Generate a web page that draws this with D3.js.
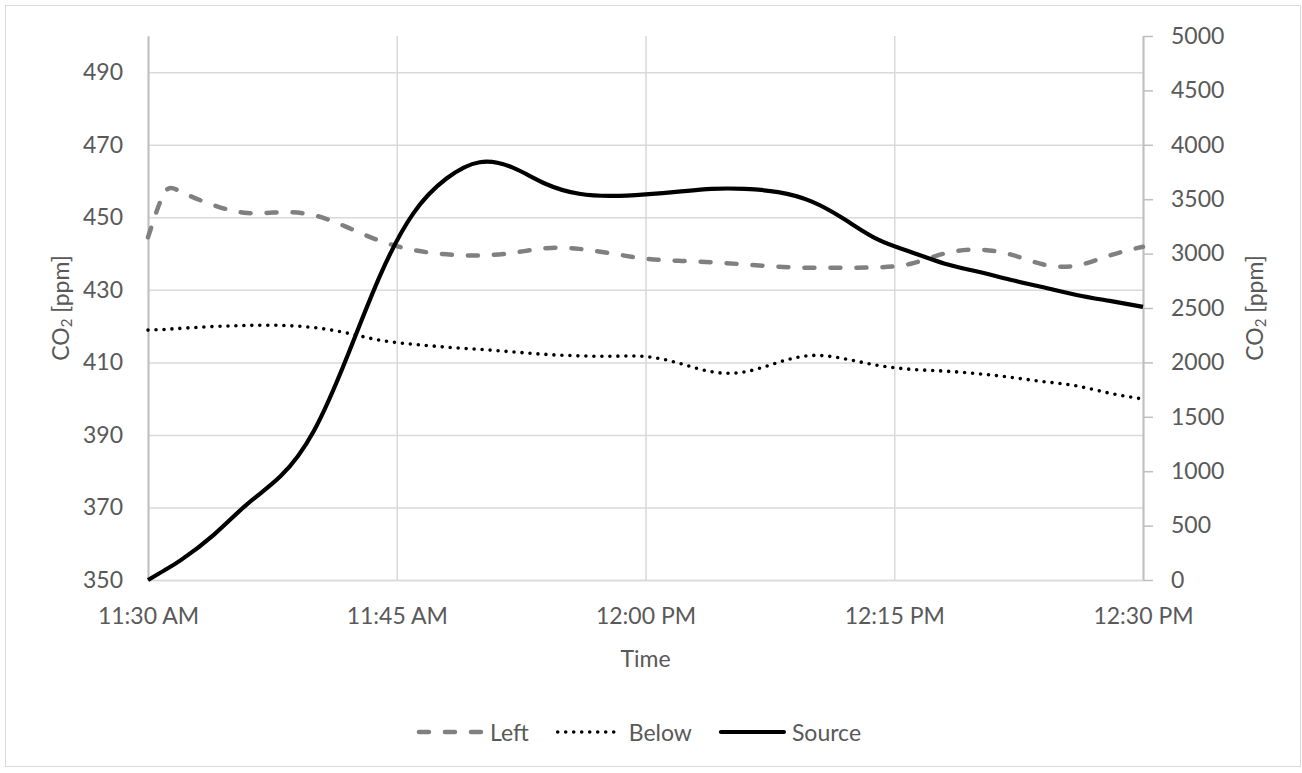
<!DOCTYPE html>
<html>
<head>
<meta charset="utf-8">
<script src="https://cdn.jsdelivr.net/npm/d3@7"></script>
<style>
  html, body { margin: 0; padding: 0; background: #ffffff; }
  svg { display: block; }
  text { font-family: Lato, "Open Sans", sans-serif; fill: #595959; }
</style>
</head>
<body>
<svg id="chart" width="1302" height="773"></svg>
<script>
// Sample times (clock time, same day)
const times = ["11:30","11:31","11:32","11:34","11:36","11:38","11:40","11:42","11:44","11:46","11:48",
  "11:50","11:52","11:54","11:56","11:58","12:00","12:02","12:04","12:06","12:08","12:10",
  "12:12","12:14","12:16","12:18","12:20","12:22","12:24","12:26","12:28","12:30"];

// CO2 beside the source, left axis [ppm]
const leftValues = [444.5,456.8,457.0,453.3,451.2,451.4,450.6,447.3,443.5,441.0,439.8,
  439.5,440.2,441.5,441.3,440.0,438.6,438.0,437.6,437.0,436.4,436.1,
  436.1,436.2,437.2,440.0,441.1,439.8,437.0,436.7,439.5,441.9];

// CO2 below the source, left axis [ppm]
const belowValues = [418.9,419.1,419.4,419.9,420.2,420.2,419.6,418.1,416.1,415.0,414.2,
  413.6,412.9,412.2,411.8,411.7,411.6,409.8,407.4,407.4,410.0,411.9,
  411.0,409.2,408.1,407.6,406.9,405.9,404.7,403.5,401.5,399.9];

// CO2 at the source, right axis [ppm]
const sourceValues = [0,90,185,420,700,955,1370,2050,2800,3370,3690,
  3840,3790,3640,3550,3530,3545,3570,3595,3595,3565,3480,
  3315,3130,3015,2910,2835,2760,2690,2620,2565,2510];

const leftTicks = [350,370,390,410,430,450,470,490];
const rightTicks = [0,500,1000,1500,2000,2500,3000,3500,4000,4500,5000];
const xTickTimes = ["11:30","11:45","12:00","12:15","12:30"];
const seriesNames = ["Left","Below","Source"];

const parse = d3.timeParse("%H:%M");
const svg = d3.select("#chart");

const plot = { left: 148, right: 1143, top: 36, bottom: 580 };

const x = d3.scaleTime()
  .domain([parse("11:30"), parse("12:30")])
  .range([plot.left, plot.right]);
const yL = d3.scaleLinear().domain([350, 500]).range([plot.bottom, plot.top]);
const yR = d3.scaleLinear().domain([0, 5000]).range([plot.bottom, plot.top]);

const gridColor = "#d9d9d9";
const axisColor = "#bfbfbf";
const labelFont = "Lato, sans-serif";

// Chart frame
svg.append("rect")
  .attr("x", 5.5).attr("y", 5.5)
  .attr("width", 1295).attr("height", 761)
  .attr("fill", "#ffffff").attr("stroke", "#d9d9d9").attr("stroke-width", 1);

// Horizontal grid from the left axis ticks
svg.append("g")
  .attr("transform", `translate(${plot.left},0)`)
  .call(d3.axisLeft(yL).tickValues(leftTicks).tickSize(-(plot.right - plot.left)).tickFormat(""))
  .call(g => g.select(".domain").remove())
  .call(g => g.selectAll("line").attr("stroke", gridColor).attr("stroke-width", 1.5));

// Vertical grid at the time ticks
svg.append("g")
  .attr("transform", `translate(0,${plot.bottom})`)
  .call(d3.axisBottom(x).tickValues(xTickTimes.map(parse)).tickSize(-(plot.bottom - plot.top)).tickFormat(""))
  .call(g => g.select(".domain").remove())
  .call(g => g.selectAll("line").attr("stroke", gridColor).attr("stroke-width", 1.5));

// Left axis: line + labels
const axL = svg.append("g")
  .attr("transform", `translate(${plot.left},0)`)
  .call(d3.axisLeft(yL).tickValues(leftTicks).tickSize(0).tickPadding(25));
axL.select(".domain").attr("stroke", axisColor).attr("stroke-width", 2);
axL.selectAll("text").attr("font-size", 23).style("font-family", labelFont).attr("fill", "#595959");

// Right axis: line, outward ticks, labels
const axR = svg.append("g")
  .attr("transform", `translate(${plot.right},0)`)
  .call(d3.axisRight(yR).tickValues(rightTicks).tickSize(10).tickSizeOuter(0).tickPadding(18)
    .tickFormat(d3.format("d")));
axR.select(".domain").attr("stroke", axisColor).attr("stroke-width", 2);
axR.selectAll("line").attr("stroke", axisColor).attr("stroke-width", 1.5);
axR.selectAll("text").attr("font-size", 23).style("font-family", labelFont).attr("fill", "#595959");

// Bottom axis labels
const axB = svg.append("g")
  .attr("transform", `translate(0,${plot.bottom})`)
  .call(d3.axisBottom(x).tickValues(xTickTimes.map(parse)).tickSize(0).tickPadding(28)
    .tickFormat(d3.timeFormat("%-I:%M %p")));
axB.select(".domain").attr("stroke", gridColor).attr("stroke-width", 1.5);
axB.selectAll("text").attr("font-size", 23).style("font-family", labelFont).attr("fill", "#595959");

// Axis titles
function co2Title(cx, cy) {
  const t = svg.append("text")
    .attr("transform", `translate(${cx},${cy}) rotate(-90)`)
    .attr("text-anchor", "middle")
    .attr("dominant-baseline", "central")
    .attr("font-size", 23);
  t.append("tspan").text("CO");
  t.append("tspan").text("2").attr("font-size", 15).attr("dy", 6);
  t.append("tspan").text(" [ppm]").attr("dy", -6);
}
co2Title(60, (plot.top + plot.bottom) / 2);
co2Title(1254, (plot.top + plot.bottom) / 2);

svg.append("text")
  .attr("x", (plot.left + plot.right) / 2).attr("y", 658)
  .attr("text-anchor", "middle").attr("dominant-baseline", "central")
  .attr("font-size", 23).text("Time");

// Series
const styles = {
  Left:   { stroke: "#808080", width: 4.5, dash: "10,16", cap: "round" },
  Below:  { stroke: "#000000", width: 3.6, dash: "0,8",   cap: "round" },
  Source: { stroke: "#000000", width: 4.2, dash: null,    cap: "butt" }
};

const series = [
  { name: "Left",   values: leftValues,   y: yL },
  { name: "Below",  values: belowValues,  y: yL },
  { name: "Source", values: sourceValues, y: yR }
];

series.forEach(s => {
  const line = d3.line()
    .x((d, i) => x(parse(times[i])))
    .y(d => s.y(d))
    .curve(d3.curveNatural);
  const st = styles[s.name];
  svg.append("path")
    .datum(s.values)
    .attr("d", line)
    .attr("fill", "none")
    .attr("stroke", st.stroke)
    .attr("stroke-width", st.width)
    .attr("stroke-linecap", st.cap)
    .attr("stroke-linejoin", "round")
    .attr("stroke-dasharray", st.dash);
});

// Legend
const legend = svg.append("g");
let cursor = 0;
seriesNames.forEach(name => {
  const st = styles[name];
  const g = legend.append("g").attr("transform", `translate(${cursor},0)`);
  g.append("line")
    .attr("x1", 2).attr("x2", 65).attr("y1", 0).attr("y2", 0)
    .attr("stroke", st.stroke).attr("stroke-width", st.width)
    .attr("stroke-linecap", "round")
    .attr("stroke-dasharray", st.dash);
  const t = g.append("text")
    .attr("x", 73).attr("y", 0)
    .attr("dominant-baseline", "central")
    .attr("font-size", 23).text(name);
  cursor += 73 + t.node().getComputedTextLength() + 27;
});
const total = cursor - 27;
legend.attr("transform", `translate(${639 - total / 2},732)`);
</script>
</body>
</html>
